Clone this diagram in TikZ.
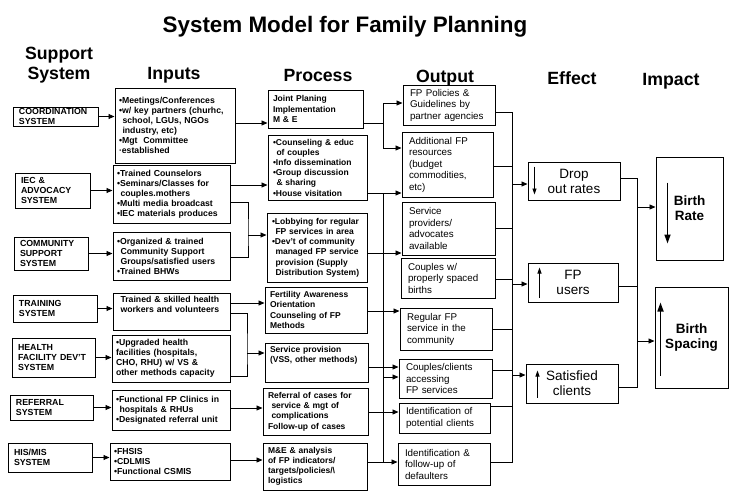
\documentclass[tikz,border=0pt]{standalone}
\usepackage{fontspec}
\setmainfont{Liberation Sans}
\usetikzlibrary{arrows.meta}
\newcommand{\ind}{\hspace*{3.5pt}}

\begin{document}
\begin{tikzpicture}[x=1pt,y=-1pt,
    cell/.style={draw,line width=1pt,inner ysep=0pt,align=left},
    sysbox/.style={cell,inner xsep=6pt,font=\bfseries\fontsize{8.8}{10}\selectfont},
    inbox/.style={cell,inner xsep=4pt,font=\bfseries\fontsize{8.7}{10}\selectfont},
    procbox/.style={cell,inner xsep=5pt,font=\bfseries\fontsize{8.5}{10.2}\selectfont},
    outbox/.style={cell,inner xsep=7pt,font=\fontsize{9.8}{11.5}\selectfont},
    effbox/.style={cell,align=center,font=\fontsize{13.5}{15}\selectfont},
    impbox/.style={cell,align=center,font=\bfseries\fontsize{13.5}{15}\selectfont},
    hdr/.style={inner sep=0pt,align=center,font=\bfseries\fontsize{17.7}{20}\selectfont},
    link/.style={line width=0.9pt},
    arr/.style={line width=0.9pt,-{Triangle[length=6pt,width=5pt]}},
    updown/.style={line width=0.8pt,-{Triangle[length=6pt,width=4pt]}},
    bigarr/.style={line width=1.6pt,-{Triangle[length=9pt,width=6pt]}}]
\useasboundingbox (0,0) rectangle (740,493);

% headings
\node[anchor=base,inner sep=0pt,font=\bfseries\fontsize{22.4}{26}\selectfont] (title) at (345,32) {System Model for Family Planning};
\node[hdr,anchor=base] (hsup) at (59,79) {Support\\System};
\node[hdr,anchor=base] (hin) at (174,79) {Inputs};
\node[hdr,anchor=base] (hproc) at (318,81) {Process};
\node[hdr,anchor=base] (hout) at (445,82) {Output};
\node[hdr,anchor=base] (heff) at (572,84) {Effect};
\node[hdr,anchor=base] (himp) at (671,85) {Impact};

% support system
\node[sysbox,text width=73pt,minimum height=19pt] (coord) at (55.5,116.5) {COORDINATION\\SYSTEM};
\node[sysbox,text width=63pt,minimum height=35pt] (iec) at (52.5,190.5) {IEC \&\\ADVOCACY\\SYSTEM};
\node[sysbox,text width=62pt,minimum height=33pt] (comm) at (51,253.5) {COMMUNITY\\SUPPORT\\SYSTEM};
\node[sysbox,text width=72pt,minimum height=27pt] (train) at (55,308.5) {TRAINING\\SYSTEM};
\node[sysbox,text width=71pt,minimum height=39pt] (health) at (53.5,357.5) {HEALTH\\FACILITY DEV'T\\SYSTEM};
\node[sysbox,text width=71pt,minimum height=25pt] (refsys) at (51.5,407.5) {REFERRAL\\SYSTEM};
\node[sysbox,text width=72pt,minimum height=29pt] (hismis) at (50,457.5) {HIS/MIS\\SYSTEM};

% inputs
\node[inbox,text width=112pt,minimum height=75pt] (meet) at (175,125.5) {•Meetings/Conferences\\•w/ key partners (churhc,\\\ind school, LGUs, NGOs\\\ind industry, etc)\\•Mgt\ \ Committee\\\textperiodcentered established};
\node[inbox,text width=109pt,minimum height=58pt] (couns) at (171.5,194) {•Trained Counselors\\•Seminars/Classes for\\\ind couples.mothers\\•Multi media broadcast\\•IEC materials produces};
\node[inbox,text width=109pt,minimum height=48pt] (org) at (171.5,256) {•Organized \& trained\\\ind Community Support\\\ind Groups/satisfied users\\•Trained BHWs};
\node[inbox,text width=109pt,minimum height=37pt,text depth=25pt] (skill) at (171.5,311.5) {\ind Trained \& skilled health\\\ind workers and volunteers};
\node[inbox,text width=110pt,minimum height=47pt] (upg) at (171,358.5) {•Upgraded health\\facilities (hospitals,\\CHO, RHU) w/ VS \&\\other methods capacity};
\node[inbox,text width=110pt,minimum height=40pt] (clin) at (171,410) {•Functional FP Clinics in\\\ind hospitals \& RHUs\\•Designated referral unit};
\node[inbox,text width=112pt,minimum height=37pt] (fhsis) at (170,461.5) {•FHSIS\\•CDLMIS\\•Functional CSMIS};

% process
\node[procbox,text width=85pt,minimum height=38pt] (joint) at (315.5,109) {Joint Planing\\Implementation\\M \& E};
\node[procbox,text width=89pt,minimum height=65pt] (counsel) at (317.5,167.5) {•Counseling \& educ\\\ind of couples\\•Info dissemination\\•Group discussion\\\ind \& sharing\\•House visitation};
\node[procbox,text width=90pt,minimum height=69pt] (lobby) at (317,247.5) {•Lobbying for regular\\\ind FP services in area\\•Dev't of community\\\ind managed FP service\\\ind provision (Supply\\\ind Distribution System)};
\node[procbox,text width=92pt,minimum height=46pt] (fert) at (316,310) {Fertility Awareness\\Orientation\\Counseling of FP\\Methods};
\node[procbox,text width=93pt,minimum height=39pt,text depth=27pt] (serv) at (316.5,362.5) {Service provision\\(VSS, other methods)};
\node[procbox,text width=95pt,minimum height=47pt] (refc) at (315.5,411.5) {Referral of cases for\\\ind service \& mgt of\\\ind complications\\Follow-up of cases};
\node[procbox,text width=94pt,minimum height=47pt] (mne) at (315,466.5) {M\&E \& analysis\\of FP indicators/\\targets/policies/\textbackslash\\logistics};

% output
\node[outbox,text width=78pt,minimum height=40pt] (pol) at (449,105) {FP Policies \&\\Guidelines by\\partner agencies};
\node[outbox,text width=77pt,minimum height=65pt] (add) at (447.5,164.5) {Additional FP\\resources\\(budget\\commodities,\\etc)};
\node[outbox,text width=79pt,minimum height=53pt] (prov) at (448.5,228.5) {Service\\providers/\\advocates\\available};
\node[outbox,text width=80pt,minimum height=40pt] (spaced) at (448,278) {Couples w/\\properly spaced\\births};
\node[outbox,text width=78pt,minimum height=42pt] (reg) at (446,329) {Regular FP\\service in the\\community};
\node[outbox,text width=79pt,minimum height=39pt] (acc) at (445.5,378.5) {Couples/clients\\accessing\\FP services};
\node[outbox,text width=77pt,minimum height=30pt] (pot) at (444.5,418) {Identification of\\potential clients};
\node[outbox,text width=78pt,minimum height=42pt] (def) at (444,464) {Identification \&\\follow-up of\\defaulters};

% effect
\node[effbox,minimum width=92pt,minimum height=38pt] (drop) at (574,181) {Drop\\out rates};
\node[effbox,minimum width=90pt,minimum height=39pt] (users) at (573,282.5) {FP\\users};
\node[effbox,minimum width=92pt,minimum height=39pt] (sat) at (572,383.5) {Satisfied\\clients};
\draw[updown] ([xshift=7pt,yshift=-5pt]drop.north west) -- ([xshift=7pt,yshift=6pt]drop.south west);
\draw[updown] ([xshift=12pt,yshift=5pt]users.south west) -- ([xshift=12pt,yshift=-5pt]users.north west);
\draw[updown] ([xshift=12pt,yshift=6pt]sat.south west) -- ([xshift=12pt,yshift=-7pt]sat.north west);

% impact
\node[impbox,minimum width=67pt,minimum height=103pt] (brate) at (689.5,208.5) {Birth\\Rate};
\node[impbox,minimum width=73pt,minimum height=101pt] (bspace) at (691.5,337.5) {Birth\\Spacing};
\draw[bigarr] ([xshift=12pt,yshift=-26pt]brate.north west) -- ([xshift=12pt,yshift=17pt]brate.south west);
\draw[bigarr] ([xshift=6pt,yshift=13pt]bspace.south west) -- ([xshift=6pt,yshift=-16pt]bspace.north west);

% support -> inputs
\draw[arr] (coord.east) -- (coord.east -| meet.west);
\draw[arr] (iec.east) -- (iec.east -| couns.west);
\draw[arr] (comm.east) -- (comm.east -| org.west);
\draw[arr] (train.east) -- (train.east -| skill.west);
\draw[arr] (health.east) -- (health.east -| upg.west);
\draw[arr] (refsys.east) -- (refsys.east -| clin.west);
\draw[arr] (hismis.east) -- (hismis.east -| fhsis.west);

% inputs -> process
\coordinate (inbus1) at (248,235);
\coordinate (inbus2) at (247,353);
\draw[arr] ([yshift=2.5pt]meet.east) -- ([yshift=2.5pt]meet.east -| joint.west);
\draw[arr] ([yshift=9pt]couns.east) -- ([yshift=9pt]couns.east -| counsel.west);
\draw[link] ([yshift=-8pt]couns.east) -| (inbus1) |- ([yshift=-1pt]org.east);
\draw[arr] (inbus1) -- (inbus1 -| lobby.west);
\draw[arr] ([yshift=8.5pt]skill.east) -- ([yshift=8.5pt]skill.east -| fert.west);
\draw[link] ([yshift=-1.5pt]skill.east) -| (inbus2) |- ([yshift=-17.5pt]upg.east);
\draw[arr] (inbus2) -- (inbus2 -| serv.west);
\draw[arr] ([yshift=2pt]clin.east) -- ([yshift=2pt]clin.east -| refc.west);
\draw[arr] ([yshift=1.5pt]fhsis.east) -- ([yshift=1.5pt]fhsis.east -| mne.west);

% process -> output
\coordinate (pbus1) at (383,123);
\coordinate (pbus2) at (383,193);
\draw[link] ([yshift=-14pt]joint.east) -- (pbus1);
\draw[arr] (pbus1) |- ([yshift=2pt]pol.west);
\draw[arr] (pbus1) |- ([yshift=16.5pt]add.west);
\draw[arr] ([yshift=-25.5pt]counsel.east) -- ([yshift=-25.5pt]counsel.east -| add.west);
\draw[link] (pbus2) -- ([yshift=4.5pt]pbus2 |- mne.east);
\draw[arr] ([yshift=-5.5pt]lobby.east) -- ([yshift=-5.5pt]lobby.east -| prov.west);
\draw[arr] ([yshift=-1pt]fert.east) -- ([yshift=-1pt]fert.east -| reg.west);
\draw[arr] ([yshift=-4.5pt]serv.east) -- ([yshift=-4.5pt]serv.east -| acc.west);
\draw[arr] ([yshift=1.5pt]pbus2 |- acc.west) -- ([yshift=1.5pt]acc.west);
\draw[arr] ([yshift=-0.5pt]refc.east) -- ([yshift=-0.5pt]refc.east -| pot.west);
\draw[arr] ([yshift=4.5pt]mne.east) -- ([yshift=4.5pt]mne.east -| def.west);

% output -> effect
\coordinate (obus1) at (512,112);
\coordinate (obus2) at (512,462);
\draw[link] ([yshift=-7pt]pol.east) -- (obus1) -- (obus2) -- ([yshift=2pt]def.east);
\draw[link] ([yshift=-1.5pt]add.east) -- ([yshift=-1.5pt]add.east -| obus1);
\draw[link] (prov.east) -- (prov.east -| obus1);
\draw[link] ([yshift=-1pt]spaced.east) -- ([yshift=-1pt]spaced.east -| obus1);
\draw[link] (reg.east) -- (reg.east -| obus1);
\draw[link] ([yshift=8.5pt]acc.east) -- ([yshift=8.5pt]acc.east -| obus1);
\draw[link] ([yshift=12pt]pot.east) -- ([yshift=12pt]pot.east -| obus1);
\draw[arr] ([yshift=-3pt]drop.west -| obus1) -- ([yshift=-3pt]drop.west);
\draw[arr] ([yshift=-1.5pt]users.west -| obus1) -- ([yshift=-1.5pt]users.west);
\draw[arr] ([yshift=8.5pt]sat.west -| obus1) -- ([yshift=8.5pt]sat.west);

% effect -> impact
\coordinate (ebus1) at (637,178);
\coordinate (ebus2) at (637,387);
\draw[link] ([yshift=3pt]drop.east) -- (ebus1) -- (ebus2) -- ([yshift=-3.5pt]sat.east);
\draw[link] ([yshift=-3.5pt]users.east) -- ([yshift=-3.5pt]users.east -| ebus1);
\draw[arr] ([yshift=1.5pt]brate.west -| ebus1) -- ([yshift=1.5pt]brate.west);
\draw[arr] ([yshift=-3.5pt]bspace.west -| ebus1) -- ([yshift=-3.5pt]bspace.west);
\end{tikzpicture}
\end{document}
